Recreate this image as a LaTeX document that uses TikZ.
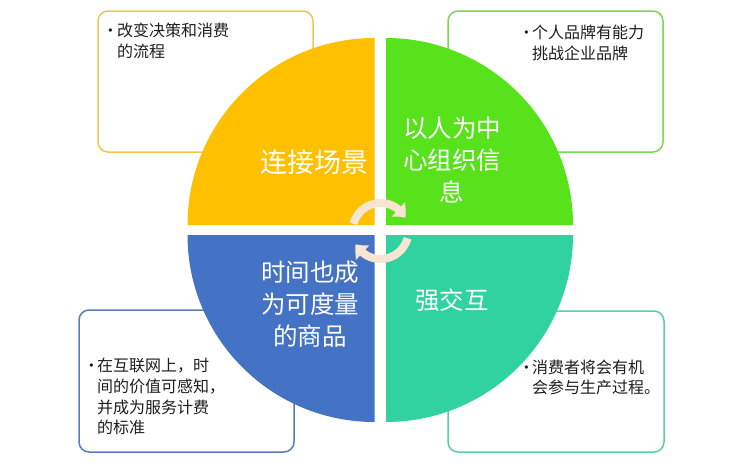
\documentclass[tikz,border=0pt]{standalone}
\usepackage{fontspec}
\setmainfont{Noto Sans CJK SC}
\newfontfamily\bulletfont{Liberation Sans}
\usetikzlibrary{arrows.meta,bending}
\definecolor{qyellow}{RGB}{255,192,0}
\definecolor{qgreen}{RGB}{88,226,28}
\definecolor{qblue}{RGB}{68,114,196}
\definecolor{qteal}{RGB}{48,210,160}
\definecolor{byellow}{RGB}{240,200,80}
\definecolor{bgreen}{RGB}{124,216,84}
\definecolor{bblue}{RGB}{90,124,190}
\definecolor{bteal}{RGB}{92,206,166}
\definecolor{arrowc}{RGB}{250,228,210}
\definecolor{txt}{RGB}{30,30,30}
\begin{document}
\begin{tikzpicture}[x=1pt,y=-1pt,
  infobox/.style={line width=1.5pt,rounded corners=10pt,fill=white},
  boxtext/.style={anchor=north west,inner sep=0pt,align=left,text=txt,
     font=\fontsize{16}{20.5}\selectfont},
  bulletmark/.style={anchor=center,inner sep=0pt,text=txt,font=\bulletfont\fontsize{12}{14}\selectfont},
  quadlabel/.style={align=center,text=white,inner sep=0pt,
     font=\fontsize{24.5}{32}\selectfont},
  cyc/.style={line width=8pt,draw=arrowc,-{Triangle[width=19pt,length=11pt,bend]}}]
\useasboundingbox (0,0) rectangle (746,466);
\fill[white] (0,0) rectangle (746,466);
% boxes
\draw[infobox,draw=byellow] (98,11) rectangle (313,152);
\draw[infobox,draw=bgreen] (448,11) rectangle (663,152);
\draw[infobox,draw=bblue] (79,310) rectangle (294,452);
\draw[infobox,draw=bteal] (448,311) rectangle (664,452);
% quadrants
\fill[qyellow] (374.5,225) -- ++(180:187) arc[start angle=180,end angle=270,radius=187] -- cycle;
\fill[qgreen] (386,225) -- ++(270:187) arc[start angle=270,end angle=360,radius=187] -- cycle;
\fill[qteal] (386,235) -- ++(0:187) arc[start angle=0,end angle=90,radius=187] -- cycle;
\fill[qblue] (374.5,235) -- ++(90:187) arc[start angle=90,end angle=180,radius=187] -- cycle;
% labels
\node[quadlabel,font=\fontsize{27}{32}\selectfont] (lconn) at (314,162) {连接场景};
\node[quadlabel] (lpeople) at (452,160) {以人为中\\心组织信\\息};
\node[quadlabel] (ltime) at (310,304.5) {时间也成\\为可度量\\的商品};
\node[quadlabel] (linter) at (452,300) {强交互};
% cycle arrows
\coordinate (cc) at (380.5,231);
\draw[cyc] (cc) ++(-165:28) arc[start angle=-165,end angle=-28,radius=28];
\draw[cyc] (cc) ++(15:28) arc[start angle=15,end angle=152,radius=28];
% box texts
\node[bulletmark] (b1) at (110.5,32) {•};
\node[boxtext] (t1) at (117,23) {改变决策和消费\\的流程};
\node[bulletmark] (b2) at (526.5,34) {•};
\node[boxtext] (t2) at (532,25) {个人品牌有能力\\挑战企业品牌};
\node[bulletmark] (b3) at (91.5,367) {•};
\node[boxtext,font=\fontsize{16}{20.7}\selectfont] (t3) at (97,358) {在互联网上，时\\间的价值可感知，\\并成为服务计费\\的标准};
\node[bulletmark] (b4) at (526.5,369) {•};
\node[boxtext,font=\fontsize{16}{19.5}\selectfont] (t4) at (532,360) {消费者将会有机\\会参与生产过程。};
\end{tikzpicture}
\end{document}
